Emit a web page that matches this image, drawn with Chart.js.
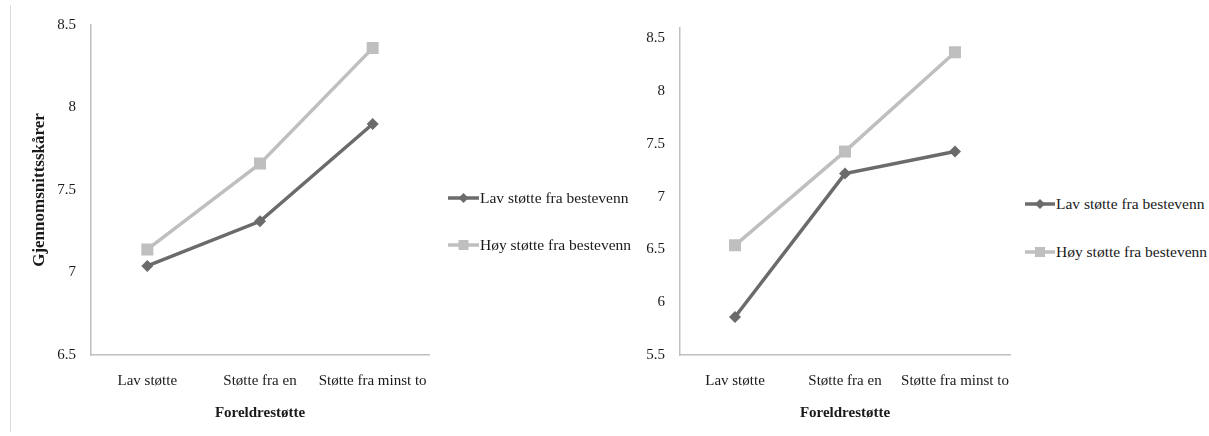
<!DOCTYPE html>
<html>
<head>
<meta charset="utf-8">
<script src="https://cdn.jsdelivr.net/npm/chart.js@4"></script>
<style>
  html, body { margin: 0; padding: 0; background: #fff; }
  #wrap { position: relative; width: 1209px; height: 436px; overflow: hidden; font-family: "Liberation Serif", "Times New Roman", serif; }
  canvas { position: absolute; top: 0; }
  .frame { position: absolute; left: 10px; top: 5px; height: 427px; border-left: 1px solid #d9d9d9; }
  .leg { position: absolute; font-size: 15.5px; color: #1a1a1a; white-space: nowrap; line-height: 16px; height: 16px; }
  .leg svg { position: absolute; top: 0; }
  .leg span { position: absolute; top: 0; }
</style>
</head>
<body>
<div id="wrap">
  <div class="frame"></div>
  <canvas id="c1" width="440" height="436" style="left:0px"></canvas>
  <canvas id="c2" width="420" height="436" style="left:600px"></canvas>
  <div id="legends"></div>
</div>
<script>
// ---- data ----
const categories = ["Lav støtte", "Støtte fra en", "Støtte fra minst to"];
const seriesNames = ["Lav støtte fra bestevenn", "Høy støtte fra bestevenn"];
const leftLav = [7.04, 7.31, 7.90];
const leftHoy = [7.14, 7.66, 8.36];
const rightLav = [5.86, 7.22, 7.43];
const rightHoy = [6.54, 7.43, 8.37];
const leftTicks = [6.5, 7, 7.5, 8, 8.5];
const rightTicks = [5.5, 6, 6.5, 7, 7.5, 8, 8.5];
const yTitle = "Gjennomsnittsskårer";
const xTitle = "Foreldrestøtte";

const DARK = "#6b6b6b";
const LIGHT = "#bfbfbf";
const AXIS = "#bfbfbf";
const TEXT = "#1a1a1a";
const FONT = "'Liberation Serif', 'Times New Roman', serif";

function makeChart(id, lav, hoy, tickVals, min, max, yAxisWidth, padRight, showYTitle) {
  return new Chart(document.getElementById(id), {
    type: 'line',
    data: {
      labels: categories,
      datasets: [
        { label: seriesNames[0], data: lav, borderColor: DARK, backgroundColor: DARK,
          borderWidth: 3.5, pointStyle: 'rectRot', pointRadius: 6, pointHoverRadius: 6,
          pointBorderWidth: 0, tension: 0 },
        { label: seriesNames[1], data: hoy, borderColor: LIGHT, backgroundColor: LIGHT,
          borderWidth: 3.5, pointStyle: 'rect', pointRadius: 8.5, pointHoverRadius: 8.5,
          pointBorderWidth: 0, tension: 0 }
      ]
    },
    options: {
      responsive: false,
      animation: false,
      devicePixelRatio: 1,
      layout: { padding: { top: (max > 8.55 ? 28 : 25), right: padRight, bottom: 0, left: 0 } },
      plugins: { legend: { display: false }, tooltip: { enabled: false } },
      scales: {
        x: {
          type: 'category',
          offset: true,
          grid: { display: false, drawTicks: false },
          border: { display: true, color: AXIS, width: 1.5 },
          ticks: { color: TEXT, font: { family: FONT, size: 15 }, padding: 17, maxRotation: 0, autoSkip: false },
          title: { display: true, text: xTitle, color: TEXT, font: { family: FONT, size: 15, weight: 'bold' }, padding: { top: 0, bottom: 14 } },
          afterFit: (s) => { s.height = 436 - 355; s.paddingLeft = 0; s.paddingRight = 0; }
        },
        y: {
          type: 'linear',
          min: min, max: max,
          grid: { display: false, drawTicks: false },
          border: { display: true, color: AXIS, width: 1.5 },
          ticks: { color: TEXT, font: { family: FONT, size: 15 }, padding: 15, callback: (v) => String(v) },
          afterBuildTicks: (s) => { s.ticks = tickVals.map(v => ({ value: v })); },
          title: { display: showYTitle, text: yTitle, color: TEXT, font: { family: FONT, size: 17, weight: 'bold' }, padding: { top: 29, bottom: 0 } },
          afterFit: (s) => { s.width = yAxisWidth; }
        }
      }
    }
  });
}

makeChart('c1', leftLav, leftHoy, leftTicks, 6.5, 8.5, 91, 11, true);
makeChart('c2', rightLav, rightHoy, rightTicks, 5.5, 8.6, 80, 10, false);

// ---- legends (HTML) ----
function legendItem(x, y, lineW, name, style) {
  const d = document.createElement('div');
  d.className = 'leg';
  d.style.left = x + 'px';
  d.style.top = (y - 8) + 'px';
  const cx = lineW / 2;
  let marker;
  if (style === 'rectRot') {
    marker = `<polygon points="${cx},3 ${cx+5},8 ${cx},13 ${cx-5},8" fill="${DARK}"/>`;
  } else {
    marker = `<rect x="${cx-5}" y="3" width="10" height="10" fill="${LIGHT}"/>`;
  }
  const col = style === 'rectRot' ? DARK : LIGHT;
  d.innerHTML = `<svg width="${lineW}" height="16"><line x1="0" y1="8" x2="${lineW}" y2="8" stroke="${col}" stroke-width="3.5"/>${marker}</svg><span style="left:${lineW + 1}px">${name}</span>`;
  document.getElementById('legends').appendChild(d);
}
legendItem(448, 198, 31, seriesNames[0], 'rectRot');
legendItem(448, 245, 31, seriesNames[1], 'rect');
legendItem(1025, 204, 30, seriesNames[0], 'rectRot');
legendItem(1025, 252, 30, seriesNames[1], 'rect');
</script>
</body>
</html>
